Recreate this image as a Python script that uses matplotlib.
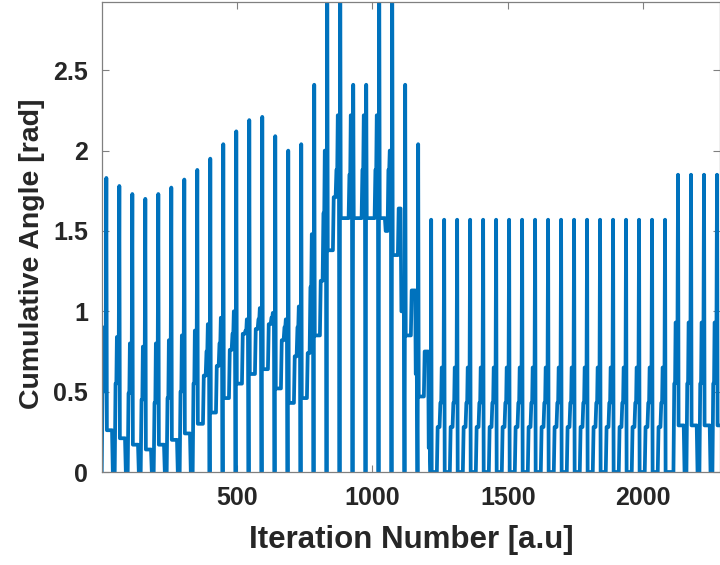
import matplotlib
matplotlib.use("Agg")
import matplotlib.pyplot as plt

# one entry per cycle (cycle 0 is the lead-in before the first spike)
# each cycle: spike -> foot -> lo -> mid -> hi -> pre -> next spike
peak = [0.0,
        1.83, 1.78, 1.73, 1.70, 1.73, 1.77, 1.82, 1.88, 1.95, 2.04,
        2.12, 2.19, 2.21, 2.09, 2.00, 2.04, 2.41, 3.20, 3.20, 2.41,
        2.41, 3.20, 3.20, 2.41, 2.04, 1.57, 1.57, 1.57, 1.57, 1.57,
        1.57, 1.57, 1.57, 1.57, 1.57, 1.57, 1.57, 1.57, 1.57, 1.57,
        1.57, 1.57, 1.57, 1.57, 1.85, 1.85, 1.85, 1.85]
foot = [0.0,
        0.26, 0.21, 0.17, 0.14, 0.17, 0.20, 0.24, 0.30, 0.37, 0.46,
        0.55, 0.61, 0.64, 0.52, 0.43, 0.46, 0.85, 1.38, 1.58, 1.58,
        1.58, 1.58, 1.35, 0.85, 0.47, 0.0, 0.0, 0.0, 0.0, 0.0,
        0.0, 0.0, 0.0, 0.0, 0.0, 0.0, 0.0, 0.0, 0.0, 0.0,
        0.0, 0.0, 0.0, 0.0, 0.29, 0.29, 0.29, 0.29]
lo = [0.0,
      0.0, 0.0, 0.0, 0.0, 0.0, 0.0, 0.0, 0.60, 0.66, 0.76,
      0.86, 0.89, 0.92, 0.82, 0.72, 0.74, 1.19, 1.71, 1.58, 1.58,
      1.58, 1.50, 1.64, 1.13, 0.75, 0.28, 0.28, 0.28, 0.28, 0.28,
      0.28, 0.28, 0.28, 0.28, 0.28, 0.28, 0.28, 0.28, 0.28, 0.28,
      0.28, 0.28, 0.28, 0.0, 0.0, 0.0, 0.0, 0.0]
mid = [0.5,
       0.55, 0.49, 0.45, 0.43, 0.46, 0.50, 0.55, 0.75, 0.80, 0.86,
       0.88, 0.95, 0.96, 0.90, 0.90, 1.15, 1.61, 1.88, 1.85, 1.88,
       1.88, 1.88, 1.00, 1.13, 0.75, 0.43, 0.43, 0.43, 0.43, 0.43,
       0.43, 0.43, 0.43, 0.43, 0.43, 0.43, 0.43, 0.43, 0.43, 0.43,
       0.43, 0.43, 0.43, 0.55, 0.55, 0.55, 0.55, 0.55]
hi = [0.9,
      0.84, 0.80, 0.78, 0.80, 0.82, 0.85, 0.88, 0.92, 0.96, 1.00,
      0.95, 1.02, 0.99, 0.95, 1.03, 1.48, 2.00, 2.22, 2.22, 2.22,
      2.22, 2.00, 1.05, 0.61, 0.15, 0.65, 0.65, 0.65, 0.65, 0.65,
      0.65, 0.65, 0.65, 0.65, 0.65, 0.65, 0.65, 0.65, 0.65, 0.65,
      0.65, 0.65, 0.65, 0.93, 0.93, 0.93, 0.93, 0.93]
pre = [0.9,
       0.84, 0.80, 0.78, 0.80, 0.82, 0.85, 0.88, 0.0, 0.0, 0.0,
       0.0, 0.0, 0.0, 0.0, 0.0, 0.0, 0.0, 0.0, 0.0, 0.0,
       0.0, 0.0, 0.0, 0.0, 0.0, 0.65, 0.65, 0.65, 0.65, 0.65,
       0.65, 0.65, 0.65, 0.65, 0.65, 0.65, 0.65, 0.65, 0.65, 0.65,
       0.65, 0.65, 0.65, 0.93, 0.93, 0.93, 0.93, 0.93]

first_spike = 17
period = 48
offsets = [0, 2, 21, 24, 31, 34, 37, 39, 43, 45, 46]

x, y = [], []
for k in range(len(peak)):
    start = first_spike + (k - 1) * period
    levels = [peak[k], foot[k], foot[k], lo[k], lo[k], mid[k], mid[k],
              hi[k], hi[k], pre[k], pre[k]]
    for off, v in zip(offsets, levels):
        x.append(start + off)
        y.append(v)

xticks = [500, 1000, 1500, 2000]
yticks = [0, 0.5, 1, 1.5, 2, 2.5]
ytick_labels = ["0", "0.5", "1", "1.5", "2", "2.5"]

plt.rcParams["font.family"] = ["Liberation Sans", "DejaVu Sans"]
fig = plt.figure(figsize=(7.2, 5.65), dpi=100)
ax = fig.add_axes([102 / 720, 93 / 565, 618 / 720, 470 / 565])

ax.plot(x, y, color="#0072BD", lw=2.7, solid_joinstyle="round")

ax.set_xlim(1, 2284)
ax.set_ylim(0, 2.925)
ax.set_xticks(xticks)
ax.set_yticks(yticks)
ax.set_yticklabels(ytick_labels)
ax.tick_params(direction="in", length=5, width=0.8, colors="#808080",
               labelcolor="#262626", labelsize=18, top=True, right=True,
               pad=10)
for lab in ax.get_xticklabels() + ax.get_yticklabels():
    lab.set_fontweight("bold")
for s in ax.spines.values():
    s.set_color("#808080")
    s.set_linewidth(0.9)

ax.set_xlabel("Iteration Number [a.u]", fontsize=22.5, fontweight="bold",
              color="#262626")
ax.set_ylabel("Cumulative Angle [rad]", fontsize=20.5, fontweight="bold",
              color="#262626")
ax.xaxis.set_label_coords(0.5, -0.112)
ax.yaxis.set_label_coords(-0.093, 0.465)

fig.savefig("out.png", dpi=100)
